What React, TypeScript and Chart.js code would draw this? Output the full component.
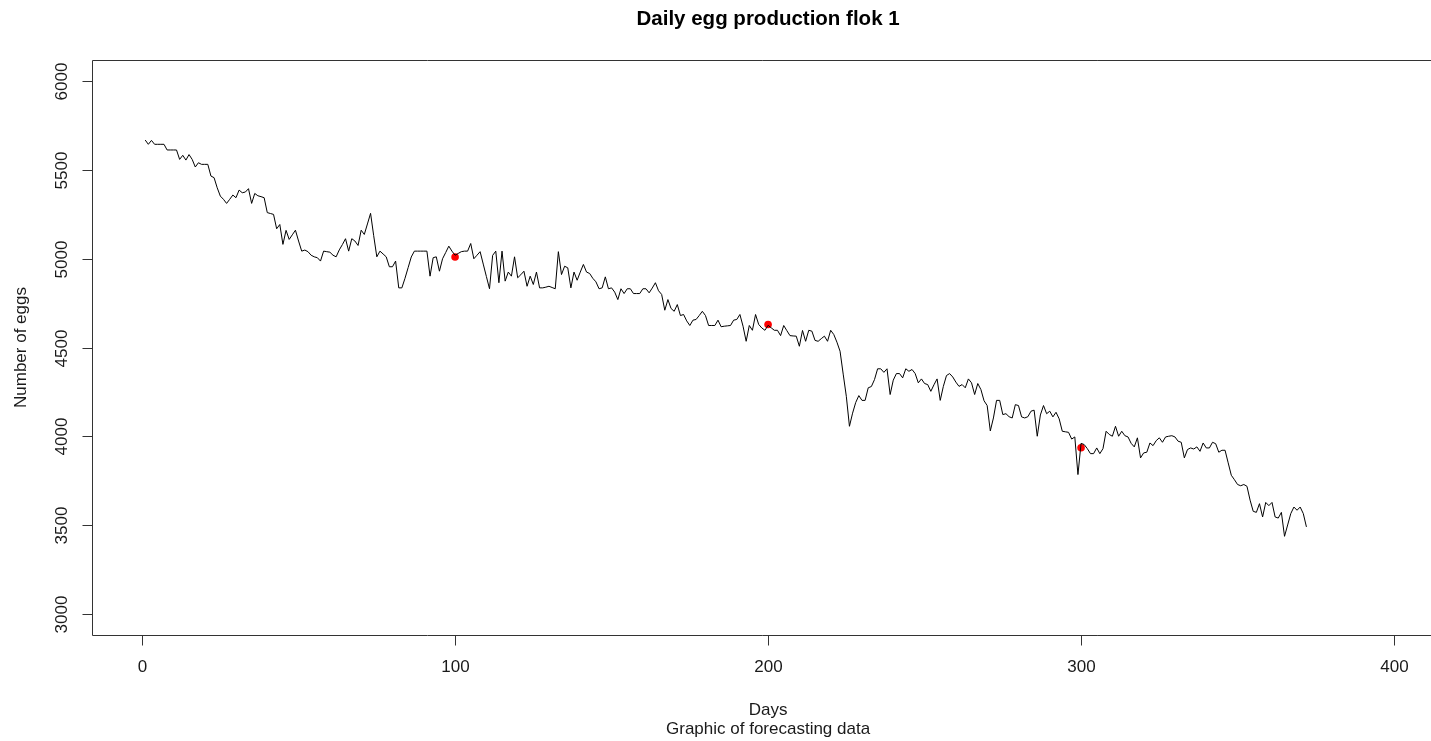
import { useEffect, useRef } from "react";
import { Chart, registerables } from "chart.js";

Chart.register(...registerables);

// Daily egg counts for flock 1, day 1 .. day 372
const eggs: number[] = [
  5669, 5645, 5667, 5645, 5645, 5645, 5645, 5613, 5613, 5613,
  5613, 5560, 5583, 5556, 5587, 5560, 5517, 5541, 5532, 5532,
  5532, 5466, 5457, 5400, 5353, 5335, 5312, 5335, 5359, 5344,
  5387, 5372, 5376, 5395, 5312, 5368, 5355, 5350, 5344, 5260,
  5255, 5250, 5169, 5193, 5081, 5160, 5109, 5135, 5161, 5100,
  5043, 5049, 5040, 5020, 5011, 5006, 4987, 5043, 5040, 5037,
  5020, 5011, 5050, 5080, 5113, 5043, 5113, 5100, 5075, 5161,
  5137, 5196, 5256, 5130, 5011, 5043, 5027, 5011, 4955, 4955,
  4987, 4836, 4836, 4890, 4950, 5010, 5043, 5043, 5043, 5043,
  5043, 4902, 5006, 5011, 4930, 5000, 5035, 5071, 5043, 5020,
  5030, 5040, 5043, 5043, 5086, 5000, 5020, 5040, 4970, 4900,
  4831, 5019, 5043, 4865, 5043, 4874, 4925, 4902, 5011, 4893,
  4910, 4930, 4845, 4902, 4855, 4925, 4836, 4836, 4840, 4845,
  4838, 4831, 5040, 4911, 4958, 4949, 4836, 4925, 4879, 4925,
  4968, 4925, 4917, 4890, 4870, 4831, 4836, 4898, 4831, 4836,
  4812, 4770, 4831, 4804, 4831, 4831, 4804, 4804, 4804, 4831,
  4831, 4808, 4835, 4865, 4820, 4799, 4710, 4770, 4720, 4704,
  4742, 4680, 4686, 4650, 4624, 4654, 4658, 4680, 4704, 4680,
  4624, 4624, 4624, 4654, 4617, 4620, 4622, 4624, 4654, 4658,
  4686, 4620, 4535, 4624, 4597, 4686, 4630, 4610, 4597, 4625,
  4611, 4597, 4597, 4567, 4624, 4595, 4567, 4565, 4564, 4507,
  4596, 4535, 4597, 4592, 4540, 4535, 4550, 4564, 4535, 4597,
  4573, 4530, 4479, 4350, 4225, 4056, 4130, 4190, 4229, 4202,
  4202, 4273, 4280, 4319, 4380, 4380, 4360, 4380, 4235, 4316,
  4353, 4353, 4329, 4380, 4366, 4376, 4353, 4301, 4323, 4297,
  4291, 4253, 4290, 4323, 4202, 4281, 4342, 4353, 4334, 4305,
  4281, 4291, 4273, 4323, 4301, 4235, 4297, 4263, 4200, 4173,
  4030, 4103, 4202, 4202, 4122, 4127, 4110, 4103, 4178, 4173,
  4109, 4103, 4110, 4141, 4147, 4000, 4120, 4173, 4127, 4141,
  4109, 4135, 4098, 4028, 4025, 4022, 3984, 3996, 3784, 3960,
  3953, 3930, 3902, 3902, 3934, 3902, 3930, 4028, 4010, 4000,
  4056, 4000, 4028, 4003, 3996, 3960, 3940, 3991, 3878, 3906,
  3910, 3962, 3947, 3975, 3991, 3966, 3996, 4000, 4003, 3996,
  3972, 3966, 3878, 3925, 3934, 3928, 3940, 3915, 3962, 3934,
  3934, 3966, 3958, 3910, 3921, 3921, 3850, 3780, 3755, 3728,
  3721, 3728, 3718, 3640, 3577, 3571, 3620, 3545, 3627, 3609,
  3627, 3545, 3539, 3571, 3436, 3500, 3564, 3601, 3583, 3601,
  3564, 3489,
];

// Forecast checkpoints
const forecastDays: number[] = [100, 200, 300];
const forecastEggs: number[] = [5010, 4630, 3935];

// Axis ticks
const xTicks: number[] = [0, 100, 200, 300, 400];
const yTicks: number[] = [3000, 3500, 4000, 4500, 5000, 5500, 6000];

const titleText = "Daily egg production flok 1";
const xLabel = "Days";
const subLabel = "Graphic of forecasting data";
const yLabel = "Number of eggs";

const FONT = "'Liberation Sans', Arial, Helvetica, sans-serif";
const INK = "#1a1a1a";

// Draws an R-style frame: open box, outward ticks, rotated y labels and titles
const framePlugin = {
  id: "rFrame",
  afterDraw(chart: Chart) {
    const { ctx, chartArea: a } = chart;
    const xs = chart.scales.x;
    const ys = chart.scales.y;
    const left = Math.round(a.left) + 0.5;
    const top = Math.round(a.top) + 0.5;
    const bottom = Math.round(a.bottom) + 0.5;
    const right = chart.width + 2;

    ctx.save();
    ctx.strokeStyle = "#333";
    ctx.lineWidth = 1;
    ctx.beginPath();
    ctx.moveTo(right, top);
    ctx.lineTo(left, top);
    ctx.lineTo(left, bottom);
    ctx.lineTo(right, bottom);
    ctx.stroke();

    ctx.fillStyle = INK;
    ctx.font = `17px ${FONT}`;
    ctx.textAlign = "center";
    ctx.textBaseline = "middle";

    // x axis
    xTicks.forEach((v) => {
      const px = Math.round(xs.getPixelForValue(v)) + 0.5;
      ctx.beginPath();
      ctx.moveTo(px, bottom);
      ctx.lineTo(px, bottom + 10);
      ctx.stroke();
      ctx.fillText(String(v), px, bottom + 32);
    });

    // y axis
    yTicks.forEach((v) => {
      const py = Math.round(ys.getPixelForValue(v)) + 0.5;
      ctx.beginPath();
      ctx.moveTo(left - 10, py);
      ctx.lineTo(left, py);
      ctx.stroke();
      ctx.save();
      ctx.translate(left - 30, py);
      ctx.rotate(-Math.PI / 2);
      ctx.fillText(String(v), 0, 0);
      ctx.restore();
    });

    const cx = xs.getPixelForValue(200);
    ctx.fillText(xLabel, cx, 710);
    ctx.fillText(subLabel, cx, 729);

    ctx.save();
    ctx.translate(21, (a.top + a.bottom) / 2);
    ctx.rotate(-Math.PI / 2);
    ctx.fillText(yLabel, 0, 0);
    ctx.restore();

    ctx.fillStyle = "#000";
    ctx.font = `bold 20.5px ${FONT}`;
    ctx.fillText(titleText, cx, 19);
    ctx.restore();
  },
};

export default function App() {
  const canvasRef = useRef<HTMLCanvasElement | null>(null);

  useEffect(() => {
    const canvas = canvasRef.current;
    if (!canvas) return;

    const chart = new Chart(canvas, {
      type: "line",
      data: {
        datasets: [
          {
            label: "Eggs",
            data: eggs.map((v, i) => ({ x: i + 1, y: v })),
            borderColor: "#000",
            borderWidth: 1,
            pointRadius: 0,
            tension: 0,
            fill: false,
          },
          {
            label: "Forecast",
            data: forecastDays.map((d, i) => ({ x: d, y: forecastEggs[i] })),
            showLine: false,
            pointRadius: 3.8,
            pointBackgroundColor: "#ff0000",
            pointBorderColor: "#ff0000",
            pointBorderWidth: 0,
          },
        ],
      },
      options: {
        animation: false,
        responsive: false,
        maintainAspectRatio: false,
        events: [],
        layout: { autoPadding: false, padding: { left: 92, top: 60, right: 0, bottom: 106 } },
        plugins: {
          legend: { display: false },
          title: { display: false },
          tooltip: { enabled: false },
        },
        scales: {
          x: { type: "linear", min: -16, max: 411.8, display: false },
          y: { type: "linear", min: 2880, max: 6120, display: false },
        },
      },
      plugins: [framePlugin],
    });

    return () => chart.destroy();
  }, []);

  return (
    <div style={{ position: "absolute", left: 0, top: 0, width: 1431, height: 741, background: "#fff" }}>
      <canvas ref={canvasRef} width={1431} height={741} style={{ display: "block" }} />
    </div>
  );
}
